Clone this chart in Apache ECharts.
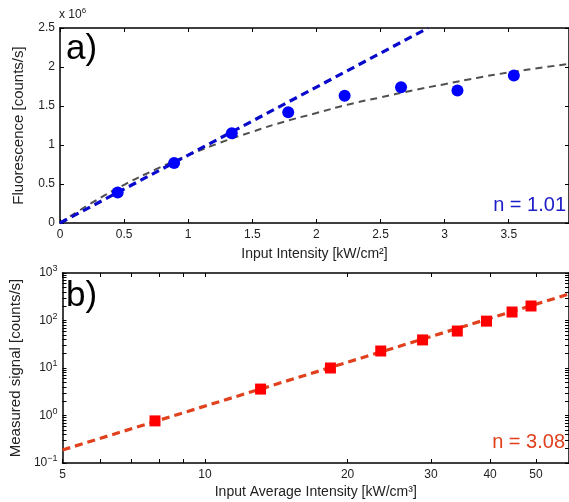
<!DOCTYPE html>
<html><head><meta charset="utf-8">
<script src="https://cdn.jsdelivr.net/npm/echarts@6/dist/echarts.min.js"></script>
<style>html,body{margin:0;padding:0;background:#fff}#c{width:569px;height:502px}</style>
</head><body><div id="c"></div>
<script>
// Panel a) : fluorescence (x10^6 counts/s) vs input intensity (kW/cm^2)
const measX = [0.45, 0.89, 1.34, 1.78, 2.22, 2.66, 3.10, 3.54];
const measY = [0.39, 0.77, 1.15, 1.42, 1.63, 1.74, 1.70, 1.89];
const linFitX = [0, 2.87];
const linFitY = [0, 2.5];
const satFitX = [0, 0.25, 0.5, 0.75, 1, 1.25, 1.5, 1.75, 2, 2.25, 2.5, 2.75, 3, 3.25, 3.5, 3.75, 3.97];
const satFitY = [0, 0.26, 0.49, 0.69, 0.87, 1.03, 1.17, 1.30, 1.41, 1.52, 1.61, 1.70, 1.78, 1.86, 1.93, 1.99, 2.04];
const aXTicks = [0, 0.5, 1, 1.5, 2, 2.5, 3, 3.5];
const aYTicks = [0, 0.5, 1, 1.5, 2, 2.5];
// Panel b) : measured signal vs input average intensity (log-log)
const sigX = [7.84, 13.1, 18.4, 23.5, 28.8, 34.1, 39.3, 44.5, 48.8];
const sigY = [0.77, 3.6, 10, 22.8, 39, 60, 97, 151, 202];
const powFitX = [5, 58.7];
const powFitY = [0.188, 361];
const bXLabels = [5, 10, 20, 30, 40, 50];
const bXTicks = [5, 6, 7, 8, 9, 10, 20, 30, 40, 50];
const bYLabels = [0.1, 1, 10, 100, 1000];
const bYTicks = [0.1,0.2,0.3,0.4,0.5,0.6,0.7,0.8,0.9,1,2,3,4,5,6,7,8,9,10,20,30,40,50,60,70,80,90,100,200,300,400,500,600,700,800,900,1000];

const zip = (a, b) => a.map((v, i) => [v, b[i]]);
const FONT = '"Liberation Sans", Arial, sans-serif';
const lineC = '#000';
const tickStyle = {inside: true, length: 4, lineStyle: {color: lineC, width: 1}};
const baseAxis = {
  axisLine: {show: true, onZero: false, lineStyle: {color: lineC, width: 1.5}},
  splitLine: {show: false},
  axisLabel: {color: '#222', fontSize: 12, fontFamily: FONT},
  nameTextStyle: {color: '#222', fontSize: 14, fontFamily: FONT}
};
const yName = {color: '#222', fontSize: 15, fontFamily: FONT};
const chart = echarts.init(document.getElementById('c'), null, {renderer: 'canvas'});
const fmtA = v => {
  const r = Math.round(v * 2) / 2;
  return Math.abs(r - v) < 1e-6 ? String(r) : '';
};
const supRich = {s: {fontSize: 9, verticalAlign: 'top', padding: [0, 0, 8, 0], fontFamily: FONT, color: '#222'}};
chart.setOption({
  animation: false,
  backgroundColor: '#fff',
  grid: [
    {left: 60, top: 28, width: 509, height: 195},
    {left: 60, top: 273, width: 509, height: 190}
  ],
  xAxis: [
    Object.assign({}, baseAxis, {
      gridIndex: 0, type: 'value', min: 0, max: 3.97, interval: 0.5,
      axisTick: tickStyle,
      axisLabel: Object.assign({}, baseAxis.axisLabel, {formatter: fmtA, showMaxLabel: false, margin: 6}),
      name: 'Input Intensity [kW/cm²]', nameLocation: 'middle', nameGap: 24
    }),
    Object.assign({}, baseAxis, {
      gridIndex: 0, type: 'value', position: 'top', min: 0, max: 3.97, interval: 0.5,
      axisTick: tickStyle, axisLabel: {show: false}
    }),
    Object.assign({}, baseAxis, {
      gridIndex: 1, type: 'log', logBase: 10, min: 5, max: 58.7,
      axisTick: Object.assign({}, tickStyle, {customValues: bXTicks}),
      axisLabel: Object.assign({}, baseAxis.axisLabel, {customValues: bXLabels, margin: 6}),
      name: 'Input Average Intensity [kW/cm³]', nameLocation: 'middle', nameGap: 22
    }),
    Object.assign({}, baseAxis, {
      gridIndex: 1, type: 'log', logBase: 10, min: 5, max: 58.7, position: 'top',
      axisTick: Object.assign({}, tickStyle, {customValues: bXTicks}),
      axisLabel: {show: false}
    })
  ],
  yAxis: [
    Object.assign({}, baseAxis, {
      gridIndex: 0, type: 'value', min: 0, max: 2.5, interval: 0.5,
      axisTick: tickStyle,
      axisLabel: Object.assign({}, baseAxis.axisLabel, {margin: 5}),
      name: 'Fluorescence [counts/s]', nameLocation: 'middle', nameGap: 34, nameTextStyle: yName
    }),
    Object.assign({}, baseAxis, {
      gridIndex: 0, type: 'value', position: 'right', min: 0, max: 2.5, interval: 0.5,
      axisTick: tickStyle, axisLabel: {show: false}
    }),
    Object.assign({}, baseAxis, {
      gridIndex: 1, type: 'log', logBase: 10, min: 0.1, max: 1000,
      axisTick: Object.assign({}, tickStyle, {customValues: bYTicks}),
      axisLabel: Object.assign({}, baseAxis.axisLabel, {
        customValues: bYLabels, margin: 5,
        formatter: v => { const e = Math.round(Math.log10(v)); return '10{s|' + (e < 0 ? '−' + (-e) : e) + '}'; },
        rich: supRich
      }),
      name: 'Measured signal [counts/s]', nameLocation: 'middle', nameGap: 34, nameTextStyle: yName
    }),
    Object.assign({}, baseAxis, {
      gridIndex: 1, type: 'log', logBase: 10, min: 0.1, max: 1000, position: 'right',
      axisTick: Object.assign({}, tickStyle, {customValues: bYTicks}), axisLabel: {show: false}
    })
  ],
  series: [
    {type: 'line', xAxisIndex: 0, yAxisIndex: 0, data: zip(satFitX, satFitY), smooth: true, symbol: 'none',
     lineStyle: {color: '#505050', width: 2, type: [7, 5]}, z: 2},
    {type: 'line', xAxisIndex: 0, yAxisIndex: 0, data: zip(linFitX, linFitY), symbol: 'none',
     lineStyle: {color: '#0a0acc', width: 3.2, type: [8, 5]}, z: 3},
    {type: 'scatter', xAxisIndex: 0, yAxisIndex: 0, data: zip(measX, measY), symbol: 'circle', symbolSize: 12,
     itemStyle: {color: '#0000ff', opacity: 1}, z: 4},
    {type: 'line', xAxisIndex: 2, yAxisIndex: 2, data: zip(powFitX, powFitY), symbol: 'none',
     lineStyle: {color: '#e0401c', width: 3.2, type: [8, 5]}, z: 2},
    {type: 'scatter', xAxisIndex: 2, yAxisIndex: 2, data: zip(sigX, sigY), symbol: 'rect', symbolSize: 11,
     itemStyle: {color: '#ff0000', opacity: 1}, z: 4}
  ],
  graphic: [
    {type: 'text', left: 59, top: 7, style: {text: 'x 10{s|6}', fontSize: 12, fontFamily: FONT, fill: '#222',
      rich: {s: {fontSize: 8, verticalAlign: 'top', padding: [0, 0, 8, 0], fontFamily: FONT, fill: '#222'}}}},
    {type: 'text', x: 66, y: 49, style: {text: 'a)', fontSize: 35, fontFamily: FONT, fill: '#000', textVerticalAlign: 'middle'}, z: 10},
    {type: 'text', x: 66, y: 296, style: {text: 'b)', fontSize: 35, fontFamily: FONT, fill: '#000', textVerticalAlign: 'middle'}, z: 10},
    {type: 'text', x: 566, y: 205, style: {text: 'n = 1.01', fontSize: 20, fontFamily: FONT, fill: '#1c1cc8', textAlign: 'right', textVerticalAlign: 'middle'}, z: 10},
    {type: 'text', x: 565, y: 442, style: {text: 'n = 3.08', fontSize: 20, fontFamily: FONT, fill: '#e0401c', textAlign: 'right', textVerticalAlign: 'middle'}, z: 10}
  ]
});
</script></body></html>
